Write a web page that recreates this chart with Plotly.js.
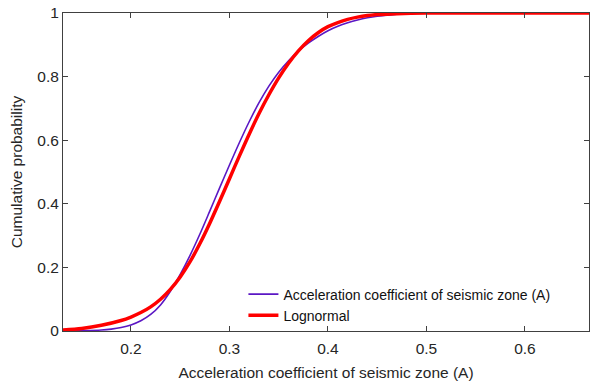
<!DOCTYPE html>
<html>
<head>
<meta charset="utf-8">
<script src="https://cdn.plot.ly/plotly-3.0.1.min.js"></script>
<style>html,body{margin:0;padding:0;background:#fff;}#chart{width:590px;height:385px;}</style>
</head>
<body>
<div id="chart"></div>
<script>
const empX = [0.131, 0.15, 0.17, 0.18, 0.19, 0.20, 0.21, 0.22, 0.23, 0.24, 0.25, 0.26, 0.27, 0.28, 0.29, 0.30, 0.31, 0.32, 0.33, 0.34, 0.35, 0.36, 0.37, 0.38, 0.39, 0.40, 0.41, 0.42, 0.43, 0.44, 0.45, 0.46, 0.47, 0.48, 0.50, 0.55, 0.665];
const empY = [0.000, 0.001, 0.003, 0.006, 0.011, 0.019, 0.032, 0.052, 0.082, 0.125, 0.178, 0.238, 0.305, 0.377, 0.450, 0.522, 0.592, 0.658, 0.718, 0.770, 0.814, 0.850, 0.880, 0.905, 0.926, 0.944, 0.958, 0.969, 0.978, 0.985, 0.990, 0.993, 0.996, 0.998, 1.000, 1.000, 1.000];
// Fitted lognormal CDF
const logX = [0.131, 0.15, 0.17, 0.19, 0.20, 0.21, 0.22, 0.23, 0.24, 0.25, 0.26, 0.27, 0.28, 0.29, 0.30, 0.31, 0.32, 0.33, 0.34, 0.35, 0.36, 0.37, 0.38, 0.39, 0.40, 0.41, 0.42, 0.43, 0.44, 0.45, 0.47, 0.50, 0.60, 0.665];
const logY = [0.003, 0.008, 0.018, 0.033, 0.044, 0.058, 0.076, 0.100, 0.131, 0.170, 0.218, 0.275, 0.339, 0.408, 0.479, 0.550, 0.619, 0.684, 0.743, 0.796, 0.842, 0.881, 0.913, 0.938, 0.957, 0.970, 0.980, 0.987, 0.992, 0.995, 0.998, 1.000, 1.000, 1.000];
const xTicks = [0.2, 0.3, 0.4, 0.5, 0.6];
const xTickText = ["0.2", "0.3", "0.4", "0.5", "0.6"];
const yTicks = [0, 0.2, 0.4, 0.6, 0.8, 1];
const yTickText = ["0", "0.2", "0.4", "0.6", "0.8", "1"];
const seriesNames = ["Acceleration coefficient of seismic zone (A)", "Lognormal"];

const font = "Liberation Sans, Arial, Helvetica, sans-serif";
const axisColor = "#404040";

const traces = [
  {x: empX, y: empY, mode: "lines", name: seriesNames[0], line: {color: "#5b17c4", width: 1.6, shape: "spline", smoothing: 0.8}},
  {x: logX, y: logY, mode: "lines", name: seriesNames[1], line: {color: "#ff0000", width: 3.5, shape: "spline", smoothing: 0.8}}
];

const layout = {
  width: 590, height: 385,
  margin: {l: 63, r: 1, t: 13, b: 54},
  paper_bgcolor: "#fff", plot_bgcolor: "#fff",
  font: {family: font, size: 15, color: "#262626"},
  showlegend: true,
  legend: {x: 0.343, y: 0.165, xanchor: "left", yanchor: "top", bgcolor: "rgba(0,0,0,0)", borderwidth: 0,
           font: {family: font, size: 14, color: "#111"}, tracegroupgap: 0, itemwidth: 30},
  xaxis: {
    range: [0.131, 0.665], tickvals: xTicks, ticktext: xTickText,
    ticks: "inside", ticklen: 5, tickcolor: axisColor, tickwidth: 1,
    showline: true, linecolor: axisColor, linewidth: 1, mirror: "ticks",
    showgrid: false, zeroline: false, ticklabelstandoff: 3,
    tickfont: {family: font, size: 15.5, color: "#262626"},
    title: {text: "Acceleration coefficient of seismic zone (A)", font: {family: font, size: 15.5, color: "#262626"}, standoff: 11}
  },
  yaxis: {
    range: [0, 1], tickvals: yTicks, ticktext: yTickText,
    ticks: "inside", ticklen: 5, tickcolor: axisColor, tickwidth: 1,
    showline: true, linecolor: axisColor, linewidth: 1, mirror: "ticks",
    showgrid: false, zeroline: false,
    tickfont: {family: font, size: 15.5, color: "#262626"},
    title: {text: "Cumulative probability", font: {family: font, size: 15.5, color: "#262626"}, standoff: 10}
  }
};

Plotly.newPlot("chart", traces, layout, {displayModeBar: false, staticPlot: true});
</script>
</body>
</html>
